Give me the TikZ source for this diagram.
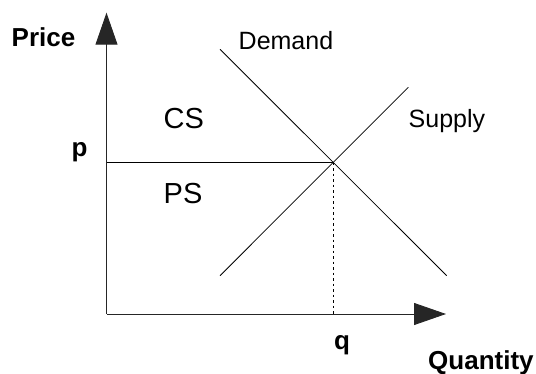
\documentclass[tikz,border=0pt]{standalone}
\usepackage{fontspec}
\setmainfont{Liberation Sans}
\usetikzlibrary{arrows.meta}
\tikzset{
  axis/.style={line width=0.9pt, draw=black!85, -{Triangle[length=32pt,width=22pt]}},
  curve/.style={line width=0.8pt, draw=black},
  lbl/.style={inner sep=0pt, anchor=base west, font=\fontsize{25}{30}\selectfont},
  blbl/.style={inner sep=0pt, anchor=base west, font=\fontsize{26}{31}\selectfont\bfseries},
  area/.style={inner sep=0pt, anchor=base west, font=\fontsize{29}{34}\selectfont}
}
\begin{document}
\begin{tikzpicture}[x=1pt,y=-1pt]
\useasboundingbox (0,0) rectangle (536,374);
\coordinate (O) at (106.5,314);
\coordinate (Ytip) at (106.5,12.7);
\coordinate (Xtip) at (446,314);
\coordinate (P) at (106.5,162.7);
\coordinate (E) at (333.3,162.7);
\coordinate (Q) at (333.3,314);
\coordinate (D1) at (220,49.3);
\coordinate (D2) at (446.7,275.7);
\coordinate (S1) at (220,275.7);
\coordinate (S2) at (408.3,87.3);

\draw[axis] (O) -- (Ytip);
\draw[axis] (O) -- (Xtip);
\draw[curve] (P) -- (E);
\draw[curve] (D1) -- (D2);
\draw[curve] (S1) -- (S2);
\draw[line width=0.8pt, dash pattern=on 2.5pt off 3pt] (E) -- (Q);

\node[blbl] (price) at (11.5,46.7) {Price};
\node[blbl] (quantity) at (428,369.3) {Quantity};
\node[blbl] (p) at (71.5,156.7) {p};
\node[blbl] (q) at (334,350) {q};
\node[lbl] (demand) at (238.5,49.3) {Demand};
\node[lbl] (supply) at (408.5,127.3) {Supply};
\node[area] (cs) at (163.5,128.3) {CS};
\node[area] (ps) at (163.5,204) {PS};
\end{tikzpicture}
\end{document}
